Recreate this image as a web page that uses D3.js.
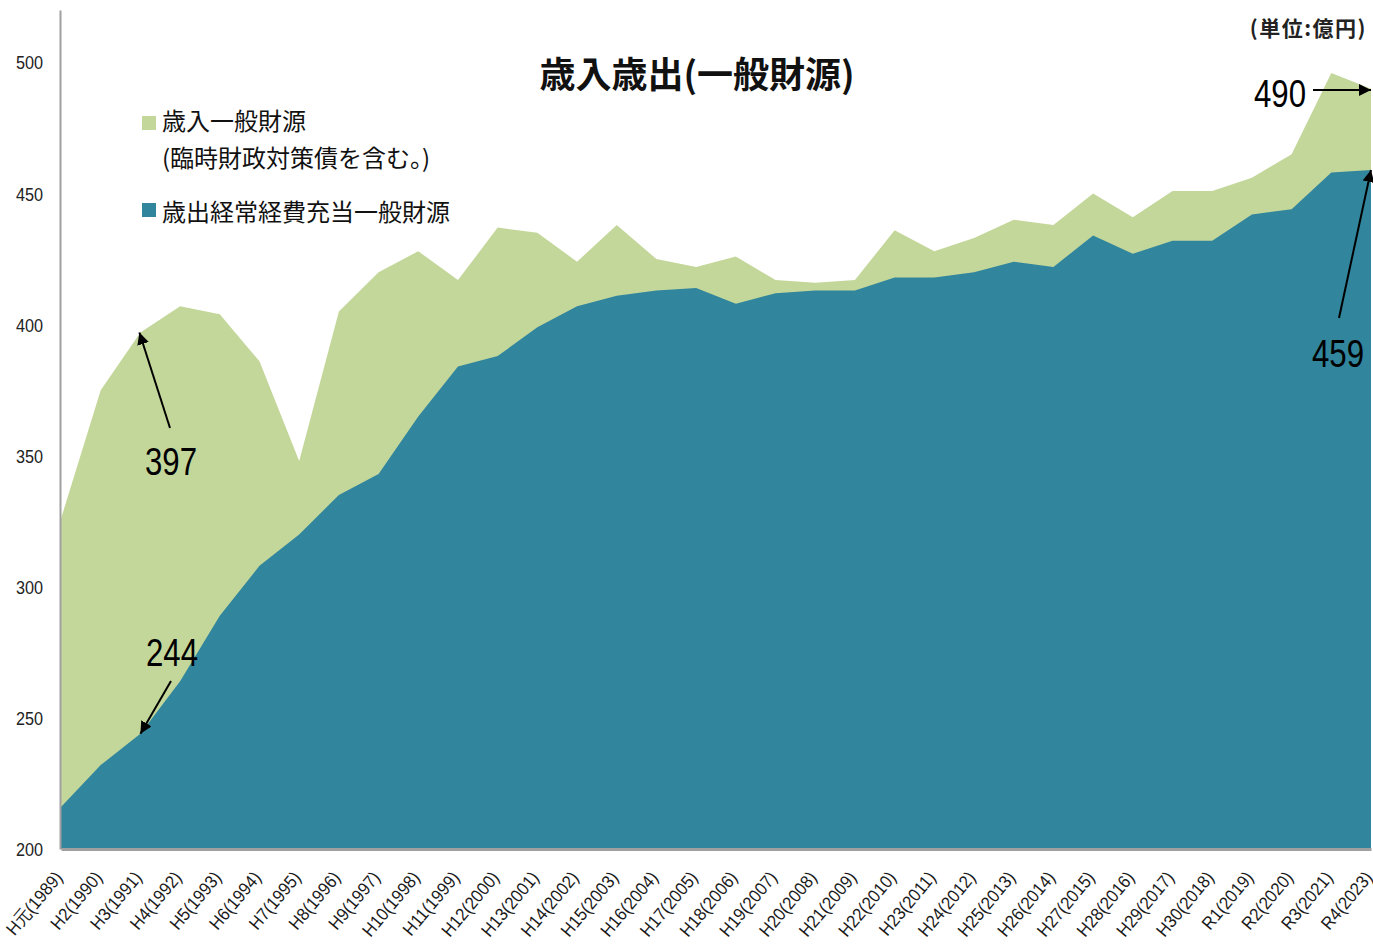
<!DOCTYPE html>
<html>
<head>
<meta charset="utf-8">
<script src="https://cdn.jsdelivr.net/npm/d3@7/dist/d3.min.js"></script>
<style>
  html, body { margin: 0; padding: 0; background: #fff; }
  svg { display: block; }
</style>
</head>
<body>
<svg id="chart" width="1373" height="944"></svg>
<script>
// ---- data ----
const categories = [
  "H元(1989)","H2(1990)","H3(1991)","H4(1992)","H5(1993)","H6(1994)","H7(1995)","H8(1996)",
  "H9(1997)","H10(1998)","H11(1999)","H12(2000)","H13(2001)","H14(2002)","H15(2003)","H16(2004)",
  "H17(2005)","H18(2006)","H19(2007)","H20(2008)","H21(2009)","H22(2010)","H23(2011)","H24(2012)",
  "H25(2013)","H26(2014)","H27(2015)","H28(2016)","H29(2017)","H30(2018)","R1(2019)","R2(2020)",
  "R3(2021)","R4(2023)"
];
// 歳入一般財源（臨時財政対策債を含む。）
const revenue = [
  326, 375, 397, 407, 404, 386, 348, 405, 420, 428, 417, 437, 435, 424, 438, 425,
  422, 426, 417, 416, 417, 436, 428, 433, 440, 438, 450, 441, 451, 451, 456, 465,
  496, 490
];
// 歳出経常経費充当一般財源
const expenditure = [
  216, 232, 244, 264, 289, 308, 320, 335, 343, 365, 384, 388, 399, 407, 411, 413,
  414, 408, 412, 413, 413, 418, 418, 420, 424, 422, 434, 427, 432, 432, 442, 444,
  458, 459
];
const yTicks = [200, 250, 300, 350, 400, 450, 500];
const seriesNames = ["歳入一般財源", "(臨時財政対策債を含む。)", "歳出経常経費充当一般財源"];
const titleText = "歳入歳出(一般財源)";
const unitText = "(単位:億円)";

// ---- drawing ----
const svg = d3.select("#chart");
const GREEN = "#c4d79b", TEAL = "#31859c", AXIS = "#a0a0a0";
const NUM_FONT = "'Liberation Sans', Arial, sans-serif";
const CJK_FONT = "'Noto Sans CJK JP', 'Noto Sans', sans-serif";

// squeeze text horizontally to mimic a narrow face
function narrow(sel, f) {
  sel.each(function () {
    const w = this.getComputedTextLength();
    d3.select(this).attr("textLength", w * f).attr("lengthAdjust", "spacingAndGlyphs");
  });
}

const x = d3.scalePoint().domain(categories).range([61, 1371]).padding(0);
const y = d3.scaleLinear().domain([200, 520]).range([849, 10]);

const areaGen = (vals) => d3.area()
  .x((d, i) => x(categories[i]))
  .y0(y(200))
  .y1(d => y(d))(vals);

svg.append("path").attr("d", areaGen(revenue)).attr("fill", GREEN);
svg.append("path").attr("d", areaGen(expenditure)).attr("fill", TEAL);

// y axis
const yAxis = svg.append("g").attr("transform", "translate(60,0)")
  .call(d3.axisLeft(y).tickValues(yTicks).tickSize(0).tickPadding(17));
yAxis.select(".domain").attr("stroke", AXIS).attr("stroke-width", 2);
yAxis.selectAll("text").attr("font-family", NUM_FONT).attr("font-size", 18)
  .attr("fill", "#222").attr("dy", "0.36em").call(narrow, 0.9);

// x axis
const xAxis = svg.append("g").attr("transform", `translate(0,${y(200)})`)
  .call(d3.axisBottom(x).tickSize(0).tickPadding(0));
xAxis.select(".domain").attr("stroke", AXIS).attr("stroke-width", 3);
xAxis.selectAll("text")
  .attr("font-family", NUM_FONT).attr("font-size", 18).attr("fill", "#1a1a1a")
  .attr("text-anchor", "end")
  .attr("dy", 0)
  .attr("transform", "translate(2,29) rotate(-50)")
  .call(narrow, 0.92);

// title
svg.append("text").attr("x", 697).attr("y", 88).attr("text-anchor", "middle")
  .attr("font-family", CJK_FONT).attr("font-weight", "bold").attr("font-size", 36)
  .attr("fill", "#111").text(titleText);

// unit
svg.append("text").attr("x", 1367).attr("y", 36).attr("text-anchor", "end")
  .attr("font-family", CJK_FONT).attr("font-weight", "bold").attr("font-size", 21)
  .attr("letter-spacing", 1.5)
  .attr("fill", "#222").text(unitText);

// legend
const lg = svg.append("g");
lg.append("rect").attr("x", 142).attr("y", 116).attr("width", 14).attr("height", 14).attr("fill", GREEN);
lg.append("rect").attr("x", 142).attr("y", 203).attr("width", 14).attr("height", 14).attr("fill", TEAL);
[[129.5, seriesNames[0]], [167, seriesNames[1]], [220.5, seriesNames[2]]].forEach(([yy, t]) => {
  lg.append("text").attr("x", 162).attr("y", yy).attr("font-family", CJK_FONT)
    .attr("font-size", 24).attr("fill", "#111").text(t);
});

// annotations
svg.append("defs").append("marker").attr("id", "arr")
  .attr("viewBox", "0 0 10 10").attr("refX", 10).attr("refY", 5)
  .attr("markerWidth", 6).attr("markerHeight", 6).attr("markerUnits", "strokeWidth")
  .attr("orient", "auto")
  .append("path").attr("d", "M0,0 L10,5 L0,10 z").attr("fill", "#000");

const last = categories.length - 1;
const annotations = [
  { val: revenue[2], tx: 145, ty: 475, from: [170, 428], to: [x(categories[2]) - 1, y(revenue[2])] },
  { val: expenditure[2], tx: 146, ty: 666, from: [171, 681], to: [x(categories[2]), y(expenditure[2])] },
  { val: revenue[last], tx: 1254, ty: 107, from: [1313, 90], to: [x(categories[last]), 90] },
  { val: expenditure[last], tx: 1312, ty: 367, from: [1339, 318], to: [x(categories[last]), y(expenditure[last])] }
];
annotations.forEach(a => {
  svg.append("line").attr("x1", a.from[0]).attr("y1", a.from[1])
    .attr("x2", a.to[0]).attr("y2", a.to[1])
    .attr("stroke", "#000").attr("stroke-width", 2).attr("marker-end", "url(#arr)");
  svg.append("text").attr("x", a.tx).attr("y", a.ty)
    .attr("font-family", NUM_FONT).attr("font-size", 39).attr("fill", "#000").text(a.val)
    .call(narrow, 0.8);
});
</script>
</body>
</html>
